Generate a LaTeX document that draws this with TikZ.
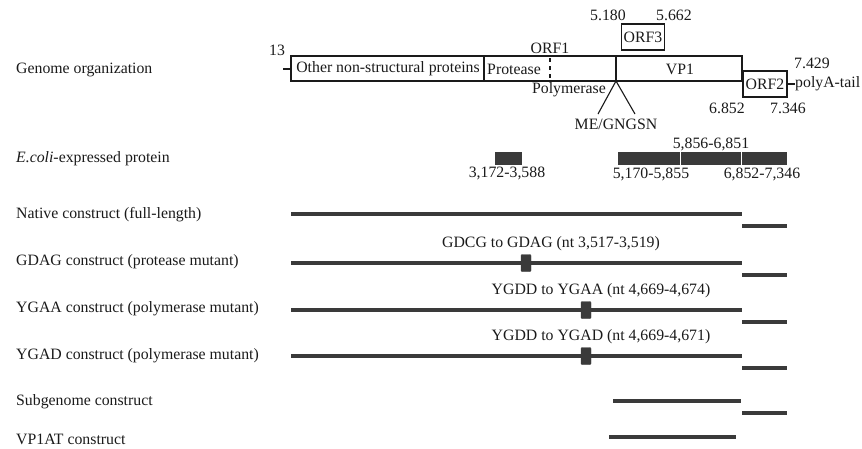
\documentclass[tikz,border=0pt]{standalone}
\usepackage{fontspec}
\setmainfont{Liberation Serif}
\definecolor{barc}{HTML}{3A3A3A}
\definecolor{inkc}{HTML}{1A1A1A}
\begin{document}
\begin{tikzpicture}[x=1pt,y=-1pt,
  font=\fontsize{15.8}{18}\selectfont, text=inkc,
  lbl/.style={anchor=west, inner sep=0},
  num/.style={inner sep=0},
  gbox/.style={draw=inkc, line width=1.1pt},
  orfbox/.style={draw=inkc, line width=1.1pt, inner sep=0, minimum width=43, minimum height=26},
  ebox/.style={fill=barc, draw=barc, inner sep=0, minimum height=12, anchor=north west},
  bar/.style={draw=barc, line width=3.2pt},
  mut/.style={fill=barc, draw=barc, rounded corners=1pt, inner sep=0, minimum width=10, minimum height=17},
  thin/.style={draw=inkc, line width=1.1pt}]
\useasboundingbox (0,0) rectangle (862,448);

% ---- left labels
\node[lbl] (l1) at (16,70) {Genome organization};
\node[lbl] (l2) at (16,159) {\textit{E.coli}-expressed protein};
\node[lbl] (l3) at (16,215) {Native construct (full-length)};
\node[lbl] (l4) at (16,262) {GDAG construct (protease mutant)};
\node[lbl] (l5) at (16,309) {YGAA construct (polymerase mutant)};
\node[lbl] (l6) at (16,356) {YGAD construct (polymerase mutant)};
\node[lbl] (l7) at (16,402) {Subgenome construct};
\node[lbl] (l8) at (16,439) {VP1AT construct};

% ---- genome organization
\coordinate (gtl) at (291,56);
\coordinate (gbr) at (742,81);
\draw[gbox] (gtl) rectangle (gbr);
\coordinate (d1t) at (484,56); \coordinate (d1b) at (484,81);
\coordinate (d2t) at (616,56); \coordinate (d2b) at (616,81);
\coordinate (dpt) at (550,58); \coordinate (dpb) at (550,78);
\draw[thin] (d1t) -- (d1b);
\draw[thin] (d2t) -- (d2b);
\draw[thin, line width=1.4pt, dash pattern=on 4pt off 4pt] (dpt) -- (dpb);
\node[num] (other) at (388,69) {Other non-structural proteins};
\node[num] (prot) at (514,69) {Protease};
\node[num] (vp1) at (680,69) {VP1};
\node[num] (orf1) at (550,48) {ORF1};
\node[num] (poly) at (569,90) {Polymerase};
\node[num] (n13) at (277,50) {13};
\coordinate (tickL) at (283,69);
\coordinate (tickR) at (291,69);
\draw[thin] (tickL) -- (tickR);

\node[orfbox] (orf3) at (643,37) {ORF3};
\node[num] (n5180) at (608,15) {5.180};
\node[num] (n5662) at (674,15) {5.662};

\node[orfbox, minimum width=44] (orf2) at (765,84) {ORF2};
\node[lbl] (polyA) at (795,84) {polyA-tail};
\draw[thin] (orf2.east) -- (polyA.west);
\node[num] (n7429) at (812,63) {7.429};
\node[num] (n6852) at (727,108) {6.852};
\node[num] (n7346) at (788,108) {7.346};

\coordinate (me) at (616,81);
\coordinate (meL) at (598,114);
\coordinate (meR) at (635,114);
\draw[thin] (meL) -- (me) -- (meR);
\node[num] (megn) at (616,124) {ME/GNGSN};

% ---- E. coli expressed proteins
\node[ebox, minimum width=26] (e1) at (495,152) {};
\node[ebox, minimum width=61] (e2) at (618,152) {};
\node[ebox, minimum width=59] (e3) at (681,152) {};
\node[ebox, minimum width=44] (e4) at (742,152) {};
\node[num] (t1) at (507,173) {3,172-3,588};
\node[num] (t2) at (711,144) {5,856-6,851};
\node[num] (t3) at (651,174) {5,170-5,855};
\node[num] (t4) at (762,174) {6,852-7,346};

% ---- constructs
\coordinate (a1) at (291,214); \coordinate (b1) at (742,214);
\coordinate (c1) at (742,226); \coordinate (f1) at (787,226);
\draw[bar] (a1) -- (b1); \draw[bar] (c1) -- (f1);

\coordinate (a2) at (291,263); \coordinate (b2) at (742,263);
\coordinate (c2) at (742,275); \coordinate (f2) at (787,275);
\draw[bar] (a2) -- (b2); \draw[bar] (c2) -- (f2);
\node[mut] (m2) at (526,263) {};
\node[num] (mt2) at (551,244) {GDCG to GDAG (nt 3,517-3,519)};

\coordinate (a3) at (291,310); \coordinate (b3) at (742,310);
\coordinate (c3) at (742,322); \coordinate (f3) at (787,322);
\draw[bar] (a3) -- (b3); \draw[bar] (c3) -- (f3);
\node[mut] (m3) at (586,310) {};
\node[num] (mt3) at (601,291) {YGDD to YGAA (nt 4,669-4,674)};

\coordinate (a4) at (291,356); \coordinate (b4) at (742,356);
\coordinate (c4) at (742,368); \coordinate (f4) at (787,368);
\draw[bar] (a4) -- (b4); \draw[bar] (c4) -- (f4);
\node[mut] (m4) at (586,356) {};
\node[num] (mt4) at (601,337) {YGDD to YGAD (nt 4,669-4,671)};

\coordinate (a5) at (613,401); \coordinate (b5) at (741,401);
\coordinate (c5) at (742,413); \coordinate (f5) at (787,413);
\draw[bar] (a5) -- (b5); \draw[bar] (c5) -- (f5);

\coordinate (a6) at (609,437); \coordinate (b6) at (736,437);
\draw[bar] (a6) -- (b6);
\end{tikzpicture}
\end{document}
